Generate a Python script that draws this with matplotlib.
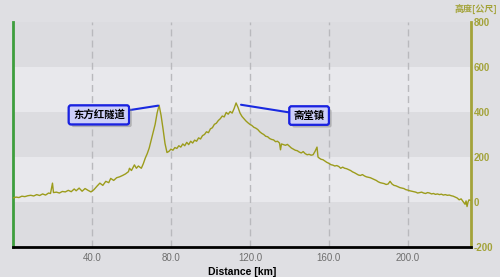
import matplotlib
matplotlib.use('Agg')
import matplotlib.pyplot as plt
import matplotlib.patheffects as pe

# distance (km) vs elevation (m)
km = [0, 1.5, 3, 4.5, 6, 7.5, 9, 10.5, 12, 13.5, 15, 16.5, 18, 19, 20, 20.5, 22, 23.5,
      25, 26.5, 28, 29.5, 31, 32, 33.5, 35, 36.5, 38, 39.5, 41, 42.5, 44, 45.5, 47,
      48.5, 49.5, 51, 52.5, 54, 55.5, 57, 58.5, 59, 60, 61.5, 62.5, 63.5, 65, 66, 67,
      68, 69, 70, 71, 72, 73, 74, 75, 76, 77, 78, 79, 80, 81, 82, 83, 84, 85, 86, 87,
      88, 89, 90, 91, 92, 93, 94, 95, 96, 97, 98, 99, 100, 101, 102, 103, 104, 105,
      106, 107, 108, 109, 110, 111, 112, 113, 114, 115, 116, 117, 118, 119, 120, 121,
      122, 123, 124, 125, 126, 127, 128, 129, 130, 131, 132, 133, 134, 135, 135.5, 136,
      137, 138, 139, 140, 141, 142, 143, 144, 145, 146, 147, 148, 149, 150, 151, 152,
      153, 154, 154.5, 155, 156, 157, 158, 159, 160, 161, 162, 163, 164, 165, 166, 167,
      168, 169, 170, 171, 172, 173, 174, 175, 176, 177, 178, 179, 180, 181, 182, 183,
      184, 185, 186, 187, 188, 189, 190, 191, 192, 193, 194, 195, 196, 197, 198, 199,
      200, 201, 202, 203, 204, 205, 206, 207, 208, 209, 210, 211, 212, 213, 214, 215,
      216, 217, 218, 219, 220, 221, 222, 223, 224, 225, 226, 227, 228, 229, 229.5, 230,
      230.5, 231, 231.5]
elev = [18, 22, 20, 26, 24, 28, 30, 27, 33, 29, 36, 31, 40, 38, 84, 42, 44, 40,
        47, 45, 52, 46, 58, 50, 62, 48, 60, 52, 45, 55, 70, 84, 74, 92,
        86, 105, 96, 108, 112, 118, 125, 135, 150, 140, 165, 150, 160, 150, 170, 195,
        215, 240, 275, 310, 345, 395, 430, 385, 325, 260, 220, 225, 235, 230, 242, 238, 250, 244, 258, 250,
        265, 255, 270, 262, 275, 270, 285, 280, 295, 300, 312, 308, 325, 330, 345, 350, 362, 370,
        382, 378, 398, 390, 402, 395, 415, 440, 420, 395, 380, 370, 360, 352, 345, 340,
        332, 328, 322, 312, 305, 300, 292, 290, 282, 278, 276, 268, 270, 262, 232, 258,
        255, 252, 256, 248, 240, 235, 230, 228, 222, 218, 224, 215, 210, 212, 208, 210,
        225, 244, 200, 196, 190, 188, 182, 176, 172, 166, 164, 160, 162, 158, 150, 155,
        150, 148, 144, 140, 134, 130, 125, 120, 118, 122, 116, 112, 110, 108, 104, 100,
        96, 90, 86, 84, 82, 78, 80, 92, 80, 74, 72, 68, 64, 62, 60, 55,
        53, 50, 48, 46, 44, 40, 42, 44, 40, 38, 42, 40, 36, 38, 34, 36,
        33, 35, 31, 33, 30, 31, 28, 26, 22, 18, 10, 14, 2, -10, 5, -20,
        0, 10, 8]

x_ticks = [40, 80, 120, 160, 200]
y_ticks = [-200, 0, 200, 400, 600, 800]

# labels of the two marked places: (text, peak km, peak elev, box km, box elev)
marks = [('东方红隧道', 73.5, 428, 43.5, 387),
         ('斋堂镇', 115.5, 432, 150, 384)]

bg = '#dfdfe3'
band_dark = '#dcdce0'
band_light = '#e8e8ec'
olive = '#9c9c1c'
axis_olive = '#a3a33a'

fig = plt.figure(figsize=(5, 2.77), dpi=100, facecolor=bg)
ax = fig.add_axes([0.026, 0.108, 0.916, 0.813])
ax.set_facecolor(band_light)

# alternating horizontal bands
for i in range(len(y_ticks) - 1):
    c = band_dark if i % 2 == 0 else band_light
    ax.axhspan(y_ticks[i], y_ticks[i + 1], color=c, zorder=0, lw=0)

for xv in x_ticks:
    ax.axvline(xv, color='#b9b9bd', lw=1, dashes=(5, 3), zorder=1)

ax.plot(km, elev, color=olive, lw=1, zorder=3)

ax.set_xlim(0, 232)
ax.set_ylim(-200, 800)

ax.set_xticks(x_ticks)
ax.set_xticklabels([f'{v:.1f}' for v in x_ticks], family='Liberation Sans',
                   fontsize=7, color='#6e6e6e')
ax.yaxis.tick_right()
ax.set_yticks(y_ticks)
ax.set_yticklabels([str(v) for v in y_ticks], family='Liberation Sans',
                   fontsize=7, fontweight='bold', color=axis_olive)
ax.tick_params(axis='both', length=0)
ax.tick_params(axis='x', pad=4)
ax.tick_params(axis='y', pad=2)

ax.spines['top'].set_visible(False)
ax.spines['left'].set_color('#3e9e3e')
ax.spines['left'].set_linewidth(2)
ax.spines['right'].set_color(axis_olive)
ax.spines['right'].set_linewidth(2)
ax.spines['bottom'].set_color('black')
ax.spines['bottom'].set_linewidth(2)

ax.set_xlabel('Distance [km]', family='Liberation Sans', fontsize=7.5,
              fontweight='bold', labelpad=3)
fig.text(0.994, 0.965, '高度[公尺]', ha='right', va='center', fontsize=6.5,
         fontweight='bold', color=axis_olive,
         family=['Noto Sans CJK SC', 'DejaVu Sans'])

for name, px, py, tx, ty in marks:
    ann = ax.annotate(name, xy=(px, py), xytext=(tx, ty), ha='center', va='center',
                      fontsize=7.5, fontweight='bold',
                      family=['Noto Sans CJK SC', 'DejaVu Sans'],
                      bbox=dict(boxstyle='round,pad=0.4,rounding_size=0.2',
                                fc='#cdcff9', ec='#1a22e0', lw=1.5),
                      arrowprops=dict(arrowstyle='-', color='#1a2ae0', lw=1.5,
                                      shrinkA=0, shrinkB=0),
                      zorder=5)
    ann.get_bbox_patch().set_path_effects(
        [pe.withSimplePatchShadow(offset=(2, -2), shadow_rgbFace='#888888', alpha=0.5),
         pe.Normal()])

fig.savefig('out.png', dpi=100, facecolor=bg)
